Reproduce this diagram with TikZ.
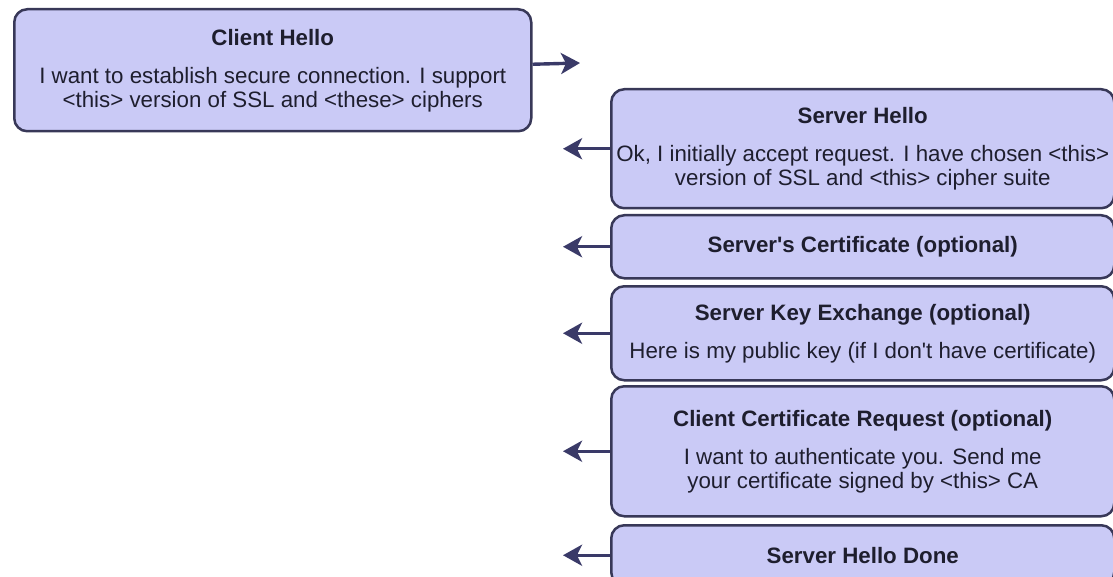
\documentclass[tikz,border=0pt]{standalone}
\usepackage{fontspec}
\setmainfont{Liberation Sans}
\usetikzlibrary{arrows.meta}
\definecolor{boxfill}{RGB}{202,202,246}
\definecolor{boxline}{RGB}{56,56,88}
\definecolor{arrowline}{RGB}{58,58,104}
\definecolor{msgtext}{RGB}{30,30,46}

\begin{document}
\begin{tikzpicture}[%
    x=1pt, y=-1pt,
    line width=2.5pt,
    msgbox/.style={
        rectangle, rounded corners=13pt,
        draw=boxline, fill=boxfill,
        text=msgtext, align=center,
        anchor=north west, inner sep=0pt,
        font=\fontsize{22.3}{24}\selectfont
    },
    srvbox/.style={
        msgbox, minimum width=503pt
    },
    msgarrow/.style={
        draw=arrowline, line width=3.4pt,
        -{Stealth[length=19pt,width=21pt,inset=5pt]}
    }
]
    % Same size as the original, the server boxes run up to the right edge.
    \clip (0,0) rectangle (1113,577);

    % Client side.
    \node[msgbox, minimum width=517pt, minimum height=122pt] (chello) at (13,8)
        {\textbf{Client Hello}\\[14pt]
         I want to establish secure connection. I support\\
         <this> version of SSL and <these> ciphers};

    % Server side, one box per message.
    \node[srvbox, minimum height=119pt] (shello) at (610,88)
        {\textbf{Server Hello}\\[14pt]
         Ok, I initially accept request. I have chosen <this>\\
         version of SSL and <this> cipher suite};
    \node[srvbox, minimum height=63pt] (scert) at (610,214)
        {\textbf{Server\textquotesingle s Certificate (optional)}};
    \node[srvbox, minimum height=94pt] (skey) at (610,285)
        {\textbf{Server Key Exchange (optional)}\\[14pt]
         Here is my public key (if I don\textquotesingle t have certificate)};
    \node[srvbox, minimum height=130pt] (creq) at (610,385)
        {\textbf{Client Certificate Request (optional)}\\[14pt]
         I want to authenticate you. Send me\\
         your certificate signed by <this> CA};
    \node[srvbox, minimum height=60pt] (sdone) at (610,524)
        {\textbf{Server Hello Done}};

    % Arrow tips.
    \coordinate (chellotip) at (580,63);
    \coordinate (tipline) at (563,0);

    % Client to server.
    \draw[msgarrow] ([yshift=6pt]chello.east) -- (chellotip);

    % Server to client.
    \foreach \msgname in {shello,scert,skey,creq,sdone}
        \draw[msgarrow] (\msgname.west) -- (\msgname.west -| tipline);
\end{tikzpicture}
\end{document}
